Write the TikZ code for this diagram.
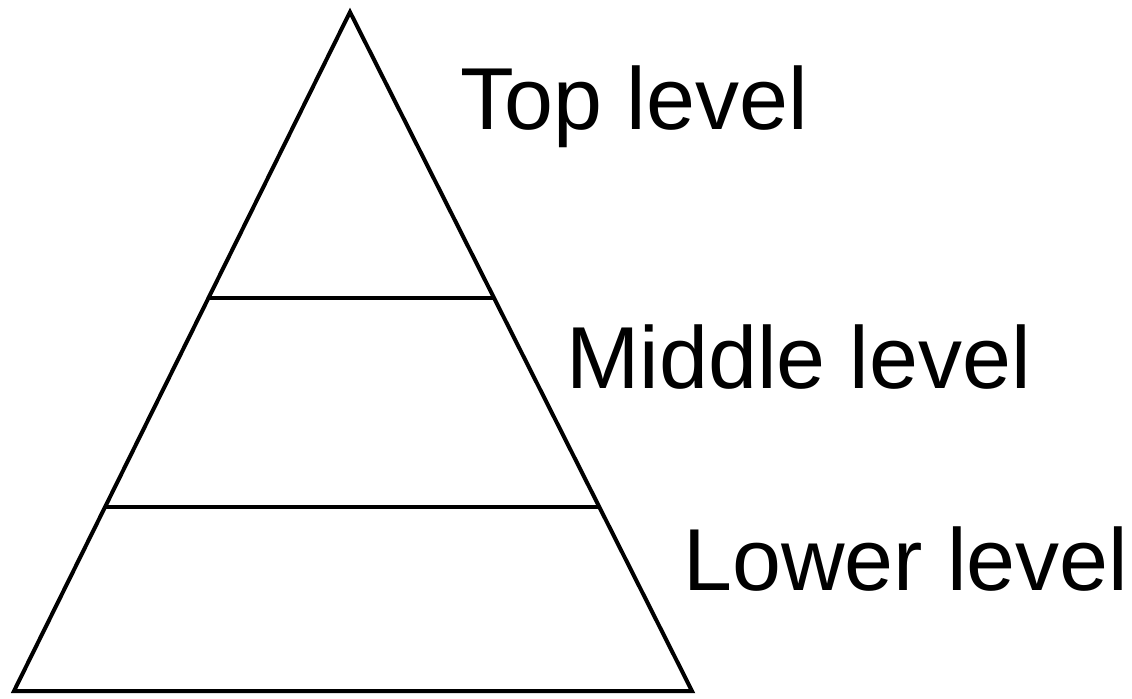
\documentclass[tikz,border=0pt]{standalone}
\usepackage{fontspec}
\setmainfont{Liberation Sans}
\usepackage{tikz}
\usetikzlibrary{calc}

\begin{document}
\begin{tikzpicture}[x=0.5pt,y=-0.5pt,
    edge/.style={line width=2pt,line join=miter},
    lvl/.style={anchor=base west,inner sep=0pt,font=\fontsize{44}{52}\selectfont}]
  \useasboundingbox (0,0) rectangle (1132,698);
  \coordinate (apex) at (350,12);
  \coordinate (bl) at (14,691);
  \coordinate (br) at (692,691);
  \draw[edge] (apex) -- (br) -- (bl) -- cycle;
  % level dividers
  \foreach \y/\n in {298/a, 507/b} {
    \draw[edge] ($(apex)!{(\y-12)/679}!(bl)$) -- ($(apex)!{(\y-12)/679}!(br)$);
  }
  \node[lvl] (top) at (460,129) {Top level};
  \node[lvl] (mid) at (566,388) {Middle level};
  \node[lvl] (low) at (683,590) {Lower level};
\end{tikzpicture}
\end{document}
